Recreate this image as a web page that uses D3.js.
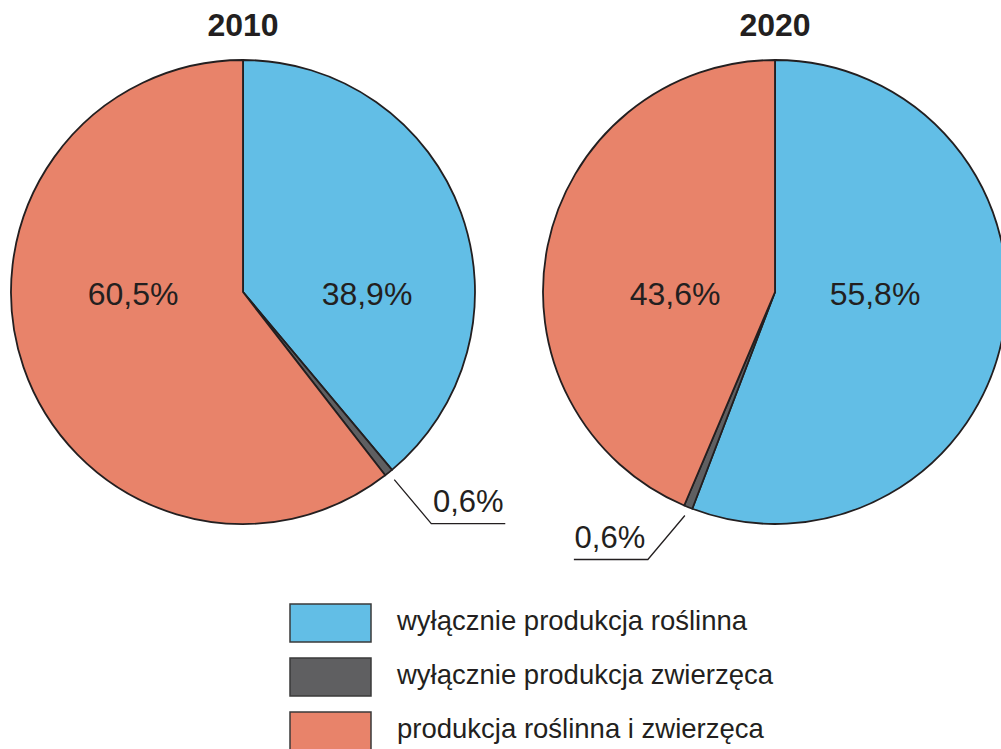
<!DOCTYPE html>
<html>
<head>
<meta charset="utf-8">
<script src="https://cdn.jsdelivr.net/npm/d3@7"></script>
<style>
  body { margin: 0; background: #fff; }
  text { font-family: "Liberation Sans", Arial, sans-serif; fill: #231f20; }
</style>
</head>
<body>
<div id="chart"></div>
<script>
// categories and values
const categories = ["wyłącznie produkcja roślinna", "wyłącznie produkcja zwierzęca", "produkcja roślinna i zwierzęca"];
const colors = ["#62bee6", "#5f5f61", "#e8836a"];
const years = ["2010", "2020"];
const values2010 = [38.9, 0.6, 60.5];
const values2020 = [55.8, 0.6, 43.6];

const width = 1001, height = 749;
const svg = d3.select("#chart").append("svg")
    .attr("width", width)
    .attr("height", height);

const radius = 232;
const pie = d3.pie().value(d => d).sort(null);
const arc = d3.arc().innerRadius(0).outerRadius(radius);
const fmt = v => d3.format(".1f")(v).replace(".", ",") + "%";

// labelDx: horizontal offset of the big labels for the 3 slices
const charts = [
    { year: years[0], values: values2010, cx: 243, cy: 292, side: 1, labelDx: [124, 0, -110] },
    { year: years[1], values: values2020, cx: 775, cy: 292, side: -1, labelDx: [100, 0, -100] }
];

charts.forEach(c => {
    const g = svg.append("g").attr("transform", `translate(${c.cx},${c.cy})`);
    const arcs = pie(c.values);

    g.selectAll("path")
        .data(arcs)
        .join("path")
        .attr("d", arc)
        .attr("fill", (d, i) => colors[i])
        .attr("stroke", "#231f20")
        .attr("stroke-width", 1.8)
        .attr("stroke-linejoin", "round");

    // title
    svg.append("text")
        .attr("x", c.cx)
        .attr("y", 36)
        .attr("text-anchor", "middle")
        .style("font-weight", "bold")
        .style("font-size", "32px")
        .text(c.year);

    // big labels inside
    g.selectAll("text.big")
        .data(arcs.filter(d => d.data > 5))
        .join("text")
        .attr("class", "big")
        .attr("x", d => c.labelDx[d.index])
        .attr("y", 13)
        .attr("text-anchor", "middle")
        .style("font-size", "32px")
        .text(d => fmt(d.data));

    // small slice: leader line
    const small = arcs[1];
    const mid = (small.startAngle + small.endAngle) / 2;
    const r0 = radius + 9;
    const p0 = [Math.sin(mid) * r0, -Math.cos(mid) * r0];
    const p1 = [p0[0] + c.side * 37, p0[1] + 44];
    const p2 = [p1[0] + c.side * 74, p1[1]];
    g.append("polyline")
        .attr("points", [p0, p1, p2].map(p => p.join(",")).join(" "))
        .attr("fill", "none")
        .attr("stroke", "#231f20")
        .attr("stroke-width", 1.3);
    g.append("text")
        .attr("x", c.side > 0 ? p1[0] + 37 : p2[0] + 36)
        .attr("y", p1[1] - 12)
        .attr("text-anchor", "middle")
        .style("font-size", "31px")
        .text(fmt(small.data));
});

// legend
const legend = svg.selectAll("g.legend")
    .data(categories)
    .join("g")
    .attr("class", "legend")
    .attr("transform", (d, i) => `translate(290,${604 + i * 54})`);

legend.append("rect")
    .attr("width", 81)
    .attr("height", 38)
    .attr("fill", (d, i) => colors[i])
    .attr("stroke", "#3a3a3a")
    .attr("stroke-width", 1.5);

legend.append("text")
    .attr("x", 107)
    .attr("y", 26)
    .style("font-size", "27.5px")
    .text(d => d);
</script>
</body>
</html>
